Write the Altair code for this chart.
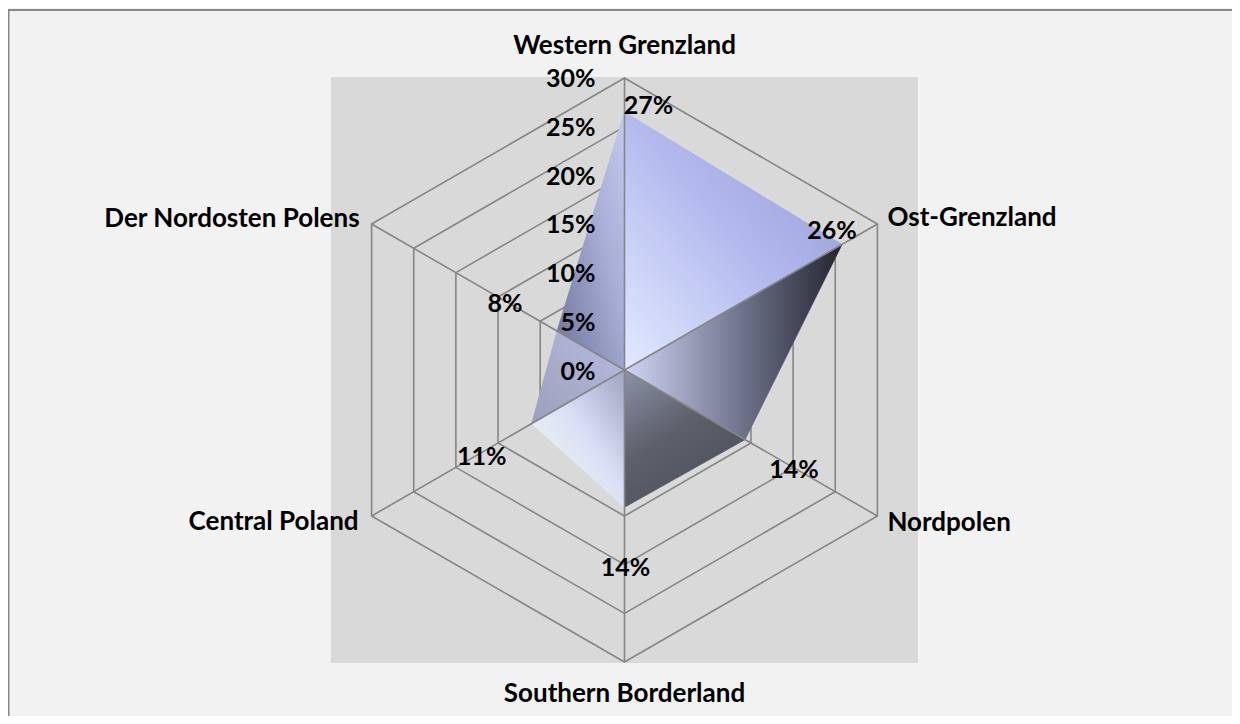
import altair as alt
import pandas as pd
import numpy as np

# ---------------- data ----------------
categories = ["Western Grenzland", "Ost-Grenzland", "Nordpolen",
              "Southern Borderland", "Central Poland", "Der Nordosten Polens"]
values = [26.5, 25.8, 14.3, 14.1, 11.0, 8.0]
value_labels = ["27%", "26%", "14%", "14%", "11%", "8%"]
tick_values = [0, 5, 10, 15, 20, 25, 30]
tick_labels = ["0%", "5%", "10%", "15%", "20%", "25%", "30%"]

# ---------------- style ----------------
W, H = 587, 586
XDOM = [-30.15, 30.15]
YDOM = [-30.1, 30.1]
K = W / (XDOM[1] - XDOM[0])          # px per percent unit
FONT = "Lato"
FS = 25
FS_CAT = 26
GRID = "#868686"

# category label placement (align, dx px, dy px)
cat_align = ["center", "left", "left", "center", "right", "right"]
cat_dx = [0, 10, 10, 0, -13, -12]
cat_dy = [-32, -6, 7, 32, 6, -5]
# data label offsets (px)
val_dx = [24, -10, 49, 1, -50, -52]
val_dy = [-6, -13.5, 30, 61, 33, -27]

n = len(categories)
ang = np.deg2rad(np.arange(n) * 360.0 / n)
sx, cy = np.sin(ang), np.cos(ang)

# rings
ring_rows = []
for lv in tick_values[1:]:
    for i in range(n):
        ring_rows.append({"lv": lv, "o": i, "x": lv * sx[i], "y": lv * cy[i]})
rings = pd.DataFrame(ring_rows)

# spokes
rmax = tick_values[-1]
spokes = pd.DataFrame({"x0": [0.0] * n, "y0": [0.0] * n,
                       "x": rmax * sx, "y": rmax * cy})

# triangles from centre
tri_rows = []
for t in range(n):
    j = (t + 1) % n
    tri_rows.append({"t": t, "o": 0, "x": 0.0, "y": 0.0})
    tri_rows.append({"t": t, "o": 1, "x": values[t] * sx[t], "y": values[t] * cy[t]})
    tri_rows.append({"t": t, "o": 2, "x": values[j] * sx[j], "y": values[j] * cy[j]})
tris = pd.DataFrame(tri_rows)

# tick labels
ticks = pd.DataFrame({"x": [0.0] * len(tick_values), "y": tick_values,
                      "lab": tick_labels})

# data labels
vlab = pd.DataFrame({
    "x": [values[i] * sx[i] + val_dx[i] / K for i in range(n)],
    "y": [values[i] * cy[i] - val_dy[i] / K for i in range(n)],
    "lab": value_labels})

# category labels
clab = pd.DataFrame({
    "x": [rmax * sx[i] + cat_dx[i] / K for i in range(n)],
    "y": [rmax * cy[i] - cat_dy[i] / K for i in range(n)],
    "lab": categories, "al": cat_align})

xs = alt.Scale(domain=XDOM, nice=False, zero=False)
ys = alt.Scale(domain=YDOM, nice=False, zero=False)
X = lambda f: alt.X(f, type="quantitative", scale=xs, axis=None)
Y = lambda f: alt.Y(f, type="quantitative", scale=ys, axis=None)

ring_layer = alt.Chart(rings).mark_line(
    interpolate="linear-closed", stroke=GRID, strokeWidth=1.6
).encode(x=X("x"), y=Y("y"), detail="lv:N", order="o:Q")


def grad(stops, x1, y1, x2, y2):
    return alt.LinearGradient(
        gradient="linear",
        stops=[alt.GradientStop(color=c, offset=o) for o, c in stops],
        x1=x1, y1=y1, x2=x2, y2=y2)


tri_grads = [
    grad([(0, "#9297d0"), (0.5, "#b4baee"), (1, "#e2eaff")], 1, 0, 0, 1),   # Western-Ost
    grad([(0, "#22252f"), (0.45, "#6d7188"), (1, "#cfd6f6")], 1, 0, 0, 0),   # Ost-Nordpolen
    grad([(0, "#8c91a6"), (0.5, "#5d616c"), (1, "#4c5059")], 0, 0, 0.6, 1),  # Nordpolen-Southern
    grad([(0, "#9ea3c0"), (0.45, "#d9e0f6"), (0.8, "#e9f3ee"), (1, "#b9cdbd")], 1, 0, 0, 1),  # Southern-Central
    grad([(0, "#b8bdde"), (1, "#9a9fbd")], 1, 0, 0, 1),                     # Central-Nordosten
    grad([(0, "#6e739a"), (0.6, "#a9aed6"), (1, "#c3c9ef")], 0, 1, 1, 0),   # Nordosten-Western
]

tri_layers = []
for t in range(n):
    tri_layers.append(
        alt.Chart(tris).transform_filter(alt.datum.t == t).mark_line(
            interpolate="linear-closed", fill=tri_grads[t], stroke=tri_grads[t],
            strokeWidth=0.8
        ).encode(x=X("x"), y=Y("y"), order="o:Q")
    )

spoke_layer = alt.Chart(spokes).mark_rule(stroke=GRID, strokeWidth=1.6).encode(
    x=X("x0"), y=Y("y0"), x2="x:Q", y2="y:Q")

tick_layer = alt.Chart(ticks).mark_text(
    align="right", baseline="middle", dx=-29, dy=1.5,
    font=FONT, fontSize=FS, fontWeight="bold", color="#000000"
).encode(x=X("x"), y=Y("y"), text="lab:N")

val_layer = alt.Chart(vlab).mark_text(
    align="center", baseline="middle",
    font=FONT, fontSize=FS, fontWeight="bold", color="#000000"
).encode(x=X("x"), y=Y("y"), text="lab:N")

cat_layers = []
for al in ["left", "center", "right"]:
    cat_layers.append(
        alt.Chart(clab).transform_filter(alt.datum.al == al).mark_text(
            align=al, baseline="middle",
            font=FONT, fontSize=FS_CAT, fontWeight="bold", color="#000000"
        ).encode(x=X("x"), y=Y("y"), text="lab:N")
    )

border = alt.Chart(pd.DataFrame({"a": [0]})).mark_rect(
    fillOpacity=0, stroke="#878787", strokeWidth=2
).encode(x=alt.value(-322.5), x2=alt.value(W + 400),
         y=alt.value(-67), y2=alt.value(H + 200))

chart = alt.layer(
    ring_layer, *tri_layers, spoke_layer, tick_layer, val_layer, *cat_layers, border
).properties(
    width=W, height=H,
    autosize=alt.AutoSizeParams(type="none"),
    padding={"left": 323, "top": 69, "right": 1224 - 323 - W, "bottom": 708 - 69 - H},
    background="#f2f2f2",
).configure_view(fill="#d9d9d9", strokeWidth=0)

chart.save("out.html", embed_options={"renderer": "svg", "actions": False})
